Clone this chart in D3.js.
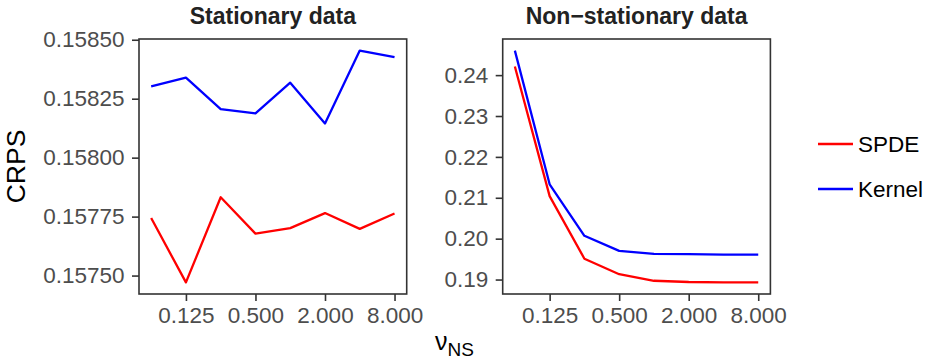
<!DOCTYPE html>
<html>
<head>
<meta charset="utf-8">
<script src="https://cdn.jsdelivr.net/npm/d3@7"></script>
<style>
  html, body { margin: 0; padding: 0; background: #fff; }
  svg { display: block; font-family: "Liberation Sans", Arial, sans-serif; }
</style>
</head>
<body>
<svg id="chart" width="933" height="364"></svg>
<script>
// nu_NS values (log2 spaced)
const nuNS = [0.0625, 0.125, 0.25, 0.5, 1, 2, 4, 8];
const xTicks = [0.125, 0.5, 2, 8];

// CRPS, stationary data
const statSPDE   = [0.157744, 0.157471, 0.157832, 0.157678, 0.157701, 0.157765, 0.157698, 0.157763];
const statKernel = [0.158302, 0.158339, 0.158206, 0.158188, 0.158318, 0.158145, 0.158454, 0.158426];
const statTicks  = [0.15750, 0.15775, 0.15800, 0.15825, 0.15850];

// CRPS, non-stationary data
const nonSPDE   = [0.2421, 0.2104, 0.1951, 0.1913, 0.1897, 0.1894, 0.1893, 0.1893];
const nonKernel = [0.2460, 0.2133, 0.2007, 0.1970, 0.1963, 0.1962, 0.1961, 0.1961];
const nonTicks  = [0.19, 0.20, 0.21, 0.22, 0.23, 0.24];

const seriesNames  = ["SPDE", "Kernel"];
const seriesColors = ["#FF0000", "#0000FF"];

const svg = d3.select("#chart");
const panelTop = 39, panelBottom = 294, panelW = 267.7;
const tickFont = "22.5px";

// 5% padding on both ends of a continuous range
function expand(lo, hi) {
  const pad = (hi - lo) * 0.05;
  return [lo - pad, hi + pad];
}

function drawPanel(opts) {
  const { left, title, series, yTicks, yFormat } = opts;
  const g = svg.append("g");

  const lx = Math.log2(d3.min(nuNS)), hx = Math.log2(d3.max(nuNS));
  const xd = expand(lx, hx);
  const x = d3.scaleLog().base(2)
    .domain([Math.pow(2, xd[0]), Math.pow(2, xd[1])])
    .range([left, left + panelW]);

  const all = series.flat();
  const y = d3.scaleLinear()
    .domain(expand(d3.min(all), d3.max(all)))
    .range([panelBottom, panelTop]);

  // data lines
  const line = d3.line().x((d, i) => x(nuNS[i])).y(d => y(d));
  series.forEach((vals, k) => {
    g.append("path")
      .datum(vals)
      .attr("d", line)
      .attr("fill", "none")
      .attr("stroke", seriesColors[k])
      .attr("stroke-width", 2.3)
      .attr("stroke-linejoin", "round");
  });

  // panel border
  g.append("rect")
    .attr("x", left).attr("y", panelTop)
    .attr("width", panelW).attr("height", panelBottom - panelTop)
    .attr("fill", "none").attr("stroke", "#333333").attr("stroke-width", 1.6);

  // y axis
  const yAxis = d3.axisLeft(y).tickValues(yTicks).tickFormat(yFormat)
    .tickSize(7).tickPadding(7.5);
  const ya = g.append("g").attr("transform", `translate(${left},0)`).call(yAxis);
  ya.select(".domain").remove();
  ya.selectAll(".tick line").attr("stroke", "#333333").attr("stroke-width", 1.6);
  ya.selectAll(".tick text").attr("fill", "#4D4D4D")
    .style("font-size", tickFont).style("font-family", "Liberation Sans, Arial, sans-serif");

  // x axis
  const xAxis = d3.axisBottom(x).tickValues(xTicks).tickFormat(d3.format(".3f"))
    .tickSize(7).tickPadding(6);
  const xa = g.append("g").attr("transform", `translate(0,${panelBottom})`).call(xAxis);
  xa.select(".domain").remove();
  xa.selectAll(".tick line").attr("stroke", "#333333").attr("stroke-width", 1.6);
  xa.selectAll(".tick text").attr("fill", "#4D4D4D")
    .style("font-size", tickFont).style("font-family", "Liberation Sans, Arial, sans-serif");

  // title
  g.append("text")
    .attr("x", left + panelW / 2).attr("y", 24)
    .attr("text-anchor", "middle")
    .attr("font-weight", "bold").attr("font-size", 23).attr("fill", "#222222")
    .text(title);
}

drawPanel({
  left: 139,
  title: "Stationary data",
  series: [statSPDE, statKernel],
  yTicks: statTicks,
  yFormat: d3.format(".5f")
});

drawPanel({
  left: 502.7,
  title: "Non\u2212stationary data",
  series: [nonSPDE, nonKernel],
  yTicks: nonTicks,
  yFormat: d3.format(".2f")
});

// y axis title
svg.append("text")
  .attr("transform", "translate(25,166.5) rotate(-90)")
  .attr("text-anchor", "middle")
  .attr("font-size", 26.5).attr("fill", "#000")
  .text("CRPS");

// x axis title: nu with subscript NS
const xl = svg.append("text")
  .attr("x", 454.5).attr("y", 350)
  .attr("text-anchor", "middle")
  .attr("font-size", 25).attr("fill", "#000");
xl.append("tspan").text("\u03BD");
xl.append("tspan").attr("dy", 6).attr("font-size", 19).text("NS");

// legend
const legend = svg.append("g");
seriesNames.forEach((name, k) => {
  const ly = 144 + k * 45;
  legend.append("line")
    .attr("x1", 818).attr("x2", 853).attr("y1", ly).attr("y2", ly)
    .attr("stroke", seriesColors[k]).attr("stroke-width", 2.3);
  legend.append("text")
    .attr("x", 858).attr("y", ly).attr("dy", "0.36em")
    .attr("font-size", 22.5).attr("fill", "#000")
    .text(name);
});
</script>
</body>
</html>
